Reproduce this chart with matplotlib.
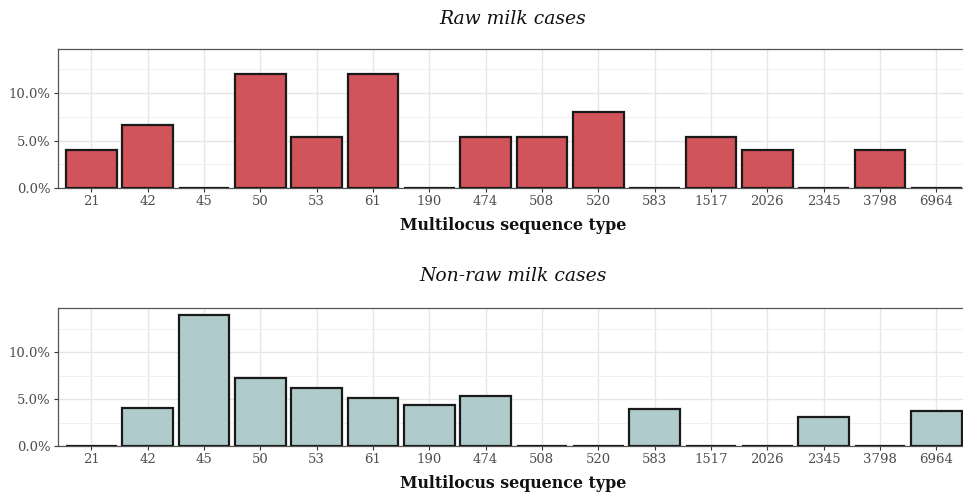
import matplotlib
matplotlib.use("Agg")
import matplotlib.pyplot as plt
from matplotlib.ticker import FuncFormatter, FixedLocator

categories = ["21", "42", "45", "50", "53", "61", "190", "474", "508", "520",
              "583", "1517", "2026", "2345", "3798", "6964"]
raw_milk = [4.0, 6.67, 0.0, 12.0, 5.33, 12.0, 0.0, 5.33, 5.33, 8.0,
            0.0, 5.33, 4.0, 0.0, 4.0, 0.0]
non_raw_milk = [0.0, 4.02, 13.9, 7.26, 6.16, 5.09, 4.37, 5.33, 0.0, 0.0,
                3.92, 0.0, 0.0, 3.06, 0.0, 3.77]
titles = ["Raw milk cases", "Non-raw milk cases"]
xlabel = "Multilocus sequence type"
colors = ["#D2545B", "#B0CBCB"]

W, H = 963, 496
fig = plt.figure(figsize=(W / 100, H / 100), dpi=100)
plt.rcParams["font.family"] = ["DejaVu Serif"]

def fx(px):
    return px / W

def fy(py):
    return 1 - py / H

panels = [
    dict(top=49, bottom=188, title_y=19, xlabel_y=225),
    dict(top=308.3, bottom=446, title_y=276, xlabel_y=484),
]
left_px, right_px = 57.5, 970

for i, (vals, p) in enumerate(zip([raw_milk, non_raw_milk], panels)):
    ax = fig.add_axes([fx(left_px), fy(p["bottom"]), fx(right_px - left_px),
                       (p["bottom"] - p["top"]) / H])
    x = list(range(len(categories)))
    ax.bar(x, vals, width=0.9, color=colors[i], edgecolor="#1a1a1a",
           linewidth=1.6, zorder=3)
    ax.set_xlim(-0.6, len(categories) - 0.4)
    ax.set_ylim(0, 14.65)
    ax.set_xticks(x)
    ax.set_xticklabels(categories)
    ax.yaxis.set_major_locator(FixedLocator([0, 5, 10]))
    ax.yaxis.set_minor_locator(FixedLocator([2.5, 7.5, 12.5]))
    ax.yaxis.set_major_formatter(FuncFormatter(lambda v, pos: f"{v:.1f}%"))
    ax.grid(True, which="major", color="#E6E6E6", linewidth=1.0, zorder=0)
    ax.grid(True, which="minor", axis="y", color="#F0F0F0", linewidth=0.7, zorder=0)
    ax.set_axisbelow(True)
    for s in ax.spines.values():
        s.set_color("#555555")
        s.set_linewidth(0.9)
    ax.tick_params(axis="both", which="major", length=3, width=0.8,
                   color="#333333", labelsize=9.5, labelcolor="#4D4D4D", pad=2)
    ax.tick_params(axis="y", which="minor", length=0)
    cx = (left_px + right_px) / 2
    fig.text(fx(cx - 1), fy(p["title_y"]), titles[i], ha="center", va="center",
             fontsize=13.5, style="italic", color="#111111")
    fig.text(fx(cx - 1), fy(p["xlabel_y"]), xlabel, ha="center", va="center",
             fontsize=11.4, fontweight="bold", color="#111111")

fig.savefig("out.png", dpi=100)
